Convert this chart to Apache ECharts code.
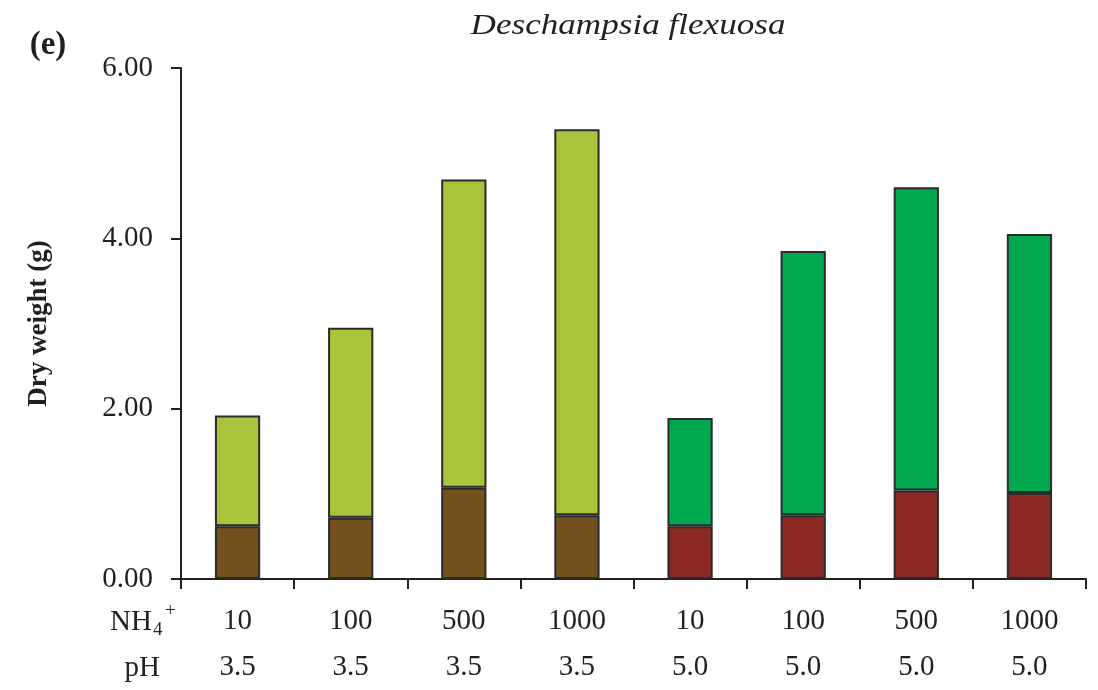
<!DOCTYPE html>
<html>
<head>
<meta charset="utf-8">
<script src="https://cdn.jsdelivr.net/npm/echarts@6/dist/echarts.min.js"></script>
<style>
  html, body { margin: 0; padding: 0; background: #ffffff; }
  #chart { width: 1098px; height: 690px; }
</style>
</head>
<body>
<div id="chart"></div>
<script>
// Treatments: NH4+ supply level and pH
const nh4Levels = ['10', '100', '500', '1000', '10', '100', '500', '1000'];
const phLevels = ['3.5', '3.5', '3.5', '3.5', '5.0', '5.0', '5.0', '5.0'];

// Dry weight (g): root part (lower) and shoot part (upper) of each stacked bar
const rootWeight = [0.62, 0.72, 1.07, 0.75, 0.62, 0.75, 1.04, 1.01];
const shootWeight = [1.30, 2.23, 3.62, 4.53, 1.27, 3.10, 3.56, 3.04];

// Y axis ticks
const yMin = 0, yMax = 6, yStep = 2;

const serif = '"Liberation Serif", "DejaVu Serif", serif';
const ink = '#231f20';

// pH 3.5 bars use brown/yellow-green, pH 5.0 bars use red/green
const rootColors = ['#75501f', '#8b2a24'];
const shootColors = ['#a8c43c', '#00a84f'];

const categories = nh4Levels.map((n, i) => n + '\n' + phLevels[i]);

function colored(values, palette) {
  return values.map((v, i) => ({
    value: v,
    itemStyle: { color: palette[phLevels[i] === '3.5' ? 0 : 1] }
  }));
}

const barStyle = { borderColor: '#2b2b2b', borderWidth: 2 };

const chart = echarts.init(document.getElementById('chart'), null, { renderer: 'canvas' });

chart.setOption({
  animation: false,
  backgroundColor: '#ffffff',
  grid: { left: 181, right: 12, top: 68, bottom: 110, containLabel: false },
  xAxis: {
    type: 'category',
    data: categories,
    axisLine: { lineStyle: { color: ink, width: 2 } },
    axisTick: { show: true, inside: false, length: 10, lineStyle: { color: ink, width: 2 } },
    axisLabel: {
      margin: 19,
      fontFamily: serif, fontSize: 29, color: ink,
      lineHeight: 46
    }
  },
  yAxis: {
    type: 'value',
    min: yMin, max: yMax, interval: yStep,
    splitLine: { show: false },
    axisLine: { show: true, lineStyle: { color: ink, width: 2 } },
    axisTick: { show: true, inside: false, length: 10, lineStyle: { color: ink, width: 2 } },
    axisLabel: {
      margin: 28,
      fontFamily: serif, fontSize: 29, color: ink,
      formatter: v => v.toFixed(2)
    },
    name: 'Dry weight (g)',
    nameLocation: 'middle',
    nameGap: 128,
    nameTextStyle: { fontFamily: serif, fontWeight: 'bold', fontSize: 27, color: ink }
  },
  series: [
    {
      name: 'Root', type: 'bar', stack: 'dw', barWidth: '40%',
      data: colored(rootWeight, rootColors),
      itemStyle: barStyle
    },
    {
      name: 'Shoot', type: 'bar', stack: 'dw', barWidth: '40%',
      data: colored(shootWeight, shootColors),
      itemStyle: barStyle
    }
  ],
  graphic: [
    // species name above the plot
    {
      type: 'text', x: 628, y: 26, scaleX: 1.17,
      style: {
        text: 'Deschampsia flexuosa', align: 'center', verticalAlign: 'middle',
        fontFamily: serif, fontStyle: 'italic', fontSize: 30, fill: ink
      }
    },
    // panel letter
    {
      type: 'text', x: 48, y: 45,
      style: { text: '(e)', align: 'center', verticalAlign: 'middle', fontFamily: serif, fontWeight: 'bold', fontSize: 33, fill: ink }
    },
    // row headers for the two label lines under the axis
    {
      type: 'text', x: 152, y: 622,
      style: { text: 'NH', align: 'right', verticalAlign: 'middle', fontFamily: serif, fontSize: 29, fill: ink }
    },
    {
      type: 'text', x: 153, y: 630,
      style: { text: '4', align: 'left', verticalAlign: 'middle', fontFamily: serif, fontSize: 19, fill: ink }
    },
    {
      type: 'text', x: 165, y: 611,
      style: { text: '+', align: 'left', verticalAlign: 'middle', fontFamily: serif, fontSize: 19, fill: ink }
    },
    {
      type: 'text', x: 160, y: 668,
      style: { text: 'pH', align: 'right', verticalAlign: 'middle', fontFamily: serif, fontSize: 29, fill: ink }
    }
  ]
});
</script>
</body>
</html>
